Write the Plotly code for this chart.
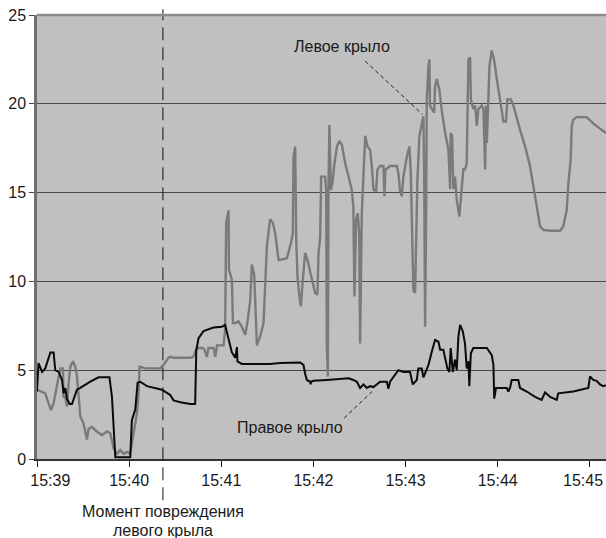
import plotly.graph_objects as go

# Time in seconds after 15:39:00
right_t = [0, 1.0, 3.3, 5.4, 8.7, 10.8, 11.9, 14.1, 16.3, 17.3, 18.4, 19.5, 21.2, 22.8, 26.0, 28.2,
           34.7, 40.1, 47.2, 48.8, 51.0, 60.7, 61.8, 64.0, 65.5, 67.2, 71.6, 77.0, 81.4, 86.8, 88.9,
           93.3, 99.8, 103.0, 103.7, 105.2, 108.4, 114.9, 120.4, 122.5, 124.7, 126.9, 129.1, 130.2,
           130.5, 133.4, 151.8, 158.3, 171.4, 173.5, 174.6, 175.7, 177.9, 178.2, 178.5, 180.0, 188.7,
           197.4, 202.8, 206.0, 208.3, 210.4, 212.6, 214.8, 216.9, 219.1, 221.3, 223.4, 227.8, 228.8,
           229.9, 232.1, 235.3, 238.6, 242.9, 244.7, 247.3, 248.3, 250.5, 251.6, 254.9, 257.1, 259.2,
           261.4, 262.5, 264.6, 267.2, 268.5, 269.4, 270.7, 272.2, 273.3, 274.4, 275.5, 277.2, 278.7,
           279.8, 280.9, 281.5, 282.5, 284.1, 292.9, 296.1, 297.2, 297.7, 298.9, 305.9, 306.9, 308.0,
           309.1, 313.4, 314.5, 318.9, 324.3, 328.6, 330.8, 334.1, 338.4, 339.4, 349.2, 359.0, 360.1,
           362.2, 364.4, 366.6, 368.7, 370.5]
right_v = [3.8, 5.4, 4.9, 5.1, 6.0, 6.0, 5.0, 4.9, 4.45, 3.7, 4.0, 3.4, 3.1, 3.1, 3.9, 4.0,
           4.35, 4.6, 4.6, 3.5, 0.1, 0.1, 2.2, 2.8, 4.3, 4.35, 4.1, 4.0, 3.9, 3.6, 3.3,
           3.2, 3.1, 3.1, 6.1, 6.8, 7.2, 7.4, 7.45, 7.55, 6.7, 6.0, 5.7, 6.3,
           5.5, 5.35, 5.35, 5.4, 5.43, 5.3, 4.8, 4.45, 4.35, 4.2, 4.35, 4.4, 4.45,
           4.5, 4.55, 4.45, 4.35, 4.0, 4.2, 4.0, 4.1, 4.05, 4.2, 4.35, 4.35, 3.95,
           4.35, 4.6, 5.0, 4.9, 4.9, 4.2, 4.45, 5.1, 5.1, 4.6, 5.3, 6.05, 6.7,
           6.6, 6.15, 6.15, 5.1, 4.9, 6.25, 4.9, 5.6, 5.0, 6.9, 7.55, 7.2, 6.5,
           5.1, 5.5, 4.1, 5.95, 6.25, 6.25, 5.85, 5.3, 3.4, 4.0, 4.0, 3.8, 4.0,
           4.45, 4.45, 4.0, 3.8, 3.5, 3.33, 3.75, 3.5, 3.33, 3.7, 3.8, 4.0, 4.65,
           4.45, 4.4, 4.2, 4.1, 4.15]

left_t = [0, 3.3, 5.4, 7.5, 9.1, 10.8, 13.0, 15.2, 16.9, 17.3, 18.4, 19.5, 20.6, 21.7, 23.4, 24.9,
          26.0, 27.1, 28.2, 30.3, 32.5, 33.6, 35.8, 39.0, 42.3, 45.6, 47.7, 49.9, 52.1, 54.2, 56.4,
          58.6, 60.7, 62.9, 65.1, 66.1, 66.8, 70.5, 80.2, 82.4, 85.6, 86.8, 88.9, 99.8, 101.8, 104.1,
          107.4, 108.9, 110.6, 111.7, 114.9, 116.1, 117.2, 121.5, 122.5, 123.2, 124.7, 125.0, 126.9,
          127.6, 129.1, 131.2, 133.4, 135.6, 137.1, 138.8, 139.9, 141.4, 143.2, 145.3, 147.5, 149.7,
          151.8, 153.6, 155.1, 157.3, 162.7, 164.9, 166.6, 167.0, 168.1, 168.8, 169.6, 170.9, 171.8,
          173.1, 174.6, 176.1, 179.0, 181.1, 182.6, 183.3, 184.4, 185.0, 187.6, 188.3, 188.7, 189.4,
          189.8, 190.4, 191.4, 192.6, 193.5, 194.1, 195.3, 196.9, 198.5, 200.7, 202.8, 205.0, 206.0,
          206.7, 207.8, 208.9, 209.8, 210.4, 211.5, 212.6, 213.7, 215.2, 216.9, 218.0, 219.1, 220.8,
          221.7, 223.4, 225.6, 226.2, 226.9, 229.9, 234.3, 235.3, 236.4, 237.5, 238.6, 240.8, 242.5,
          243.4, 244.1, 245.1, 246.2, 246.9, 247.7, 249.0, 250.5, 251.6, 252.1, 252.7, 253.4, 253.8,
          254.9, 255.5, 255.9, 257.1, 258.6, 259.2, 260.3, 262.0, 263.6, 265.7, 267.9, 269.0, 269.4,
          270.3, 271.1, 272.2, 273.3, 275.0, 276.1, 277.6, 278.7, 279.8, 280.9, 282.0, 282.5, 284.2,
          285.3, 286.4, 287.4, 289.6, 290.7, 291.8, 292.4, 292.9, 293.9, 294.6, 296.1, 297.6, 299.4,
          301.1, 302.6, 303.7, 305.4, 306.3, 308.5, 310.2, 314.5, 317.8, 321.0, 323.2, 325.4, 327.6,
          329.7, 334.1, 340.6, 342.7, 344.9, 346.0, 347.5, 348.2, 349.2, 351.4, 357.9, 362.2, 366.6,
          370.5]
left_v = [3.9, 3.8, 3.7, 3.15, 2.75, 3.15, 4.1, 5.1, 5.1, 3.5, 3.5, 2.95, 4.3, 5.2, 5.5, 5.2,
          4.7, 3.5, 2.4, 2.0, 1.1, 1.7, 1.8, 1.55, 1.35, 1.55, 1.45, 0.6, 0.3, 0.5, 0.3,
          0.4, 0.3, 1.45, 2.6, 3.7, 5.2, 5.1, 5.1, 5.3, 5.7, 5.75, 5.7, 5.7, 5.75, 6.25,
          6.25, 6.2, 5.75, 6.25, 6.25, 5.75, 6.4, 6.4, 7.3, 13.3, 14.0, 10.65, 10.1,
          7.65, 7.65, 7.75, 7.45, 7.0, 7.75, 8.9, 10.95, 10.4, 6.4, 6.9, 7.65, 12.0,
          13.5, 13.3, 12.7, 11.2, 11.3, 12.0, 12.7, 16.95, 17.6, 12.35, 10.3, 9.15, 8.6,
          10.1, 11.6, 11.2, 10.1, 9.35, 9.25, 11.6, 12.5, 15.9, 15.9, 15.15, 6.35, 4.65,
          15.35, 18.8, 15.15, 15.7, 16.5, 17.0, 17.6, 17.9, 17.7, 16.65, 15.9, 15.15, 14.2,
          9.15, 13.5, 13.85, 12.7, 6.5, 13.85, 16.1, 18.2, 17.6, 17.4, 16.5, 15.15, 15.1,
          16.3, 16.5, 16.5, 14.8, 16.3, 16.5, 16.5, 16.1, 15.1, 14.8, 15.9, 17.0, 17.6,
          16.1, 12.35, 9.5, 9.35, 12.35, 15.7, 18.2, 18.75, 19.3, 16.1, 7.45, 14.0, 20.25,
          22.1, 22.5, 19.9, 19.7, 19.5, 21.0, 21.4, 20.8, 19.6, 18.4, 17.4, 15.2, 18.35,
          18.2, 15.2, 15.9, 14.6, 13.65, 14.8, 16.3, 16.3, 16.65, 22.5, 22.6, 20.25, 19.7,
          19.9, 18.75, 19.7, 19.9, 19.7, 16.3, 19.9, 17.8, 20.25, 22.1, 23.0, 22.5, 21.4,
          20.4, 19.5, 19.0, 19.0, 20.25, 20.25, 19.9, 18.55, 17.6, 16.5, 15.35, 14.2, 13.1,
          12.9, 12.85, 12.85, 13.1, 14.0, 15.5, 16.85, 18.75, 19.1, 19.25, 19.25, 18.9, 18.6,
          18.35]

tick_seconds = [0, 60, 120, 180, 240, 300, 360]
tick_labels = ["15:39", "15:40", "15:41", "15:42", "15:43", "15:44", "15:45"]
damage_time = 82.0
damage_caption = ["Момент повреждения", "левого крыла"]

FONT = "Liberation Sans, Arial, sans-serif"

# axis tick text: first label nudged right (as in the original), last one drawn as an annotation
axis_text = ["\u00a0\u00a0\u00a0\u00a0\u00a0\u00a0" + tick_labels[0]] + tick_labels[1:-1] + [""]

fig = go.Figure()
fig.add_trace(go.Scatter(x=left_t, y=left_v, mode="lines", name="Левое крыло",
                         line=dict(color="#7a7a7a", width=2.4)))
fig.add_trace(go.Scatter(x=right_t, y=right_v, mode="lines", name="Правое крыло",
                         line=dict(color="#0a0a0a", width=2)))

# damage moment dashed line
fig.add_shape(type="line", xref="x", yref="paper", x0=damage_time, x1=damage_time,
              y0=-0.093, y1=1.013, line=dict(color="#111", width=1, dash="13px,7px"))
# top border
fig.add_shape(type="line", xref="paper", yref="paper", x0=0, x1=1, y0=1, y1=1,
              line=dict(color="#8c8c8c", width=2.5))

# leader lines
fig.add_shape(type="line", xref="x", yref="y", x0=213.7, y0=22.4, x1=251.0, y1=19.4,
              line=dict(color="#222", width=1, dash="4px,3px"))
fig.add_shape(type="line", xref="x", yref="y", x0=200.0, y0=2.3, x1=218.2, y1=3.8,
              line=dict(color="#222", width=1, dash="4px,3px"))

fig.add_annotation(x=198.7, y=23.2, xref="x", yref="y", text="Левое крыло", showarrow=False,
                   font=dict(family=FONT, size=16, color="#1a1a1a"))
fig.add_annotation(x=164.9, y=1.75, xref="x", yref="y", text="Правое крыло", showarrow=False,
                   font=dict(family=FONT, size=16, color="#1a1a1a"))
for line_text, yp in zip(damage_caption, [-0.1187, -0.16]):
    fig.add_annotation(x=damage_time, y=yp, xref="x", yref="paper",
                       text=line_text, showarrow=False,
                       yanchor="middle", xanchor="center",
                       font=dict(family=FONT, size=16, color="#1a1a1a"))
# last x tick label (kept inside the page)
fig.add_annotation(x=tick_seconds[-1], y=-0.0495, xref="x", yref="paper",
                   text=tick_labels[-1], showarrow=False, xshift=-7,
                   yanchor="middle", xanchor="center", borderpad=0,
                   font=dict(family=FONT, size=16, color="#1a1a1a"))

fig.update_layout(
    width=606, height=538,
    margin=dict(l=37, r=0, t=15, b=79, autoexpand=False),
    paper_bgcolor="white", plot_bgcolor="#c0c0c0",
    showlegend=False,
    font=dict(family=FONT, size=16, color="#1a1a1a"),
)
fig.update_xaxes(range=[0, 370.5], tickvals=tick_seconds, ticktext=axis_text,
                 showgrid=False, zeroline=False, showline=True, linecolor="#333", linewidth=1.5,
                 ticks="outside", ticklen=6, tickcolor="#222", tickwidth=1.3,
                 ticklabeloverflow="allow", automargin=False,
                 tickfont=dict(family=FONT, size=16, color="#1a1a1a"))
fig.update_yaxes(range=[0, 25], tickvals=[0, 5, 10, 15, 20, 25],
                 showgrid=True, gridcolor="#4a4a4a", gridwidth=1.3, zeroline=False,
                 showline=True, linecolor="#707070", linewidth=2.5,
                 ticks="outside", ticklen=5, tickcolor="#444", tickwidth=1.3,
                 automargin=False,
                 tickfont=dict(family=FONT, size=16, color="#1a1a1a"))

fig.write_html("out.html", config={"displayModeBar": False},
               post_script="document.body.style.margin='0';document.body.style.padding='0';")
